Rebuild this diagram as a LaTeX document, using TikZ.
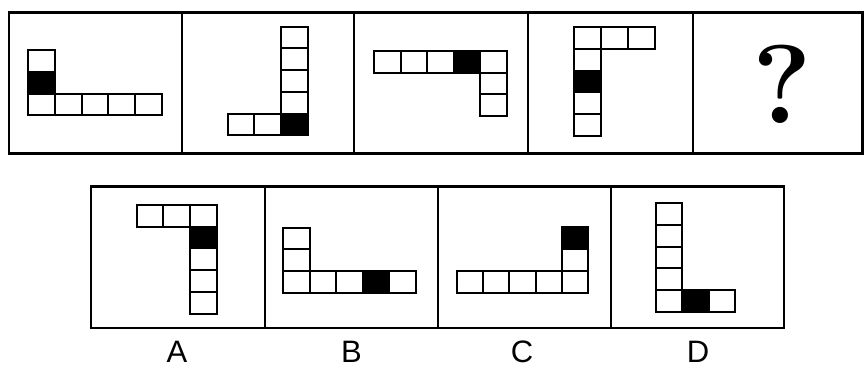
\documentclass[tikz,border=0pt]{standalone}
\usepackage{fontspec}
\setsansfont{Liberation Sans}

\tikzset{
  panel/.style={line width=2.6pt},
  cell/.style={draw, line width=2pt},
  blk/.style={cell, fill=black},
  lbl/.style={font=\sffamily\fontsize{31}{31}\selectfont, anchor=base, inner sep=0pt},
}

\begin{document}
\begin{tikzpicture}[x=1pt,y=-1pt]
  \useasboundingbox (0,0) rectangle (864,368);
  % question row
  \draw[panel] (9,12.7) rectangle (862.5,153.5);
  \foreach \x in {182,354,528,693} \draw[panel] (\x,12.7) -- (\x,153.5);
  % answer row
  \draw[panel] (91,186.7) rectangle (784,328);
  \foreach \x in {265,438,611} \draw[panel] (\x,186.7) -- (\x,328);

  % figure 1
  \begin{scope}[shift={(28.3,50)}]
    \foreach \i/\j in {0/0,0/2,1/2,2/2,3/2,4/2}
      \draw[cell] (\i*26.7,\j*21.8) rectangle ++(26.7,21.8);
    \draw[blk] (0,21.8) rectangle ++(26.7,21.8);
  \end{scope}
  % figure 2
  \begin{scope}[shift={(227.7,26.7)}]
    \foreach \i/\j in {2/0,2/1,2/2,2/3,0/4,1/4}
      \draw[cell] (\i*26.7,\j*21.7) rectangle ++(26.7,21.7);
    \draw[blk] (2*26.7,4*21.7) rectangle ++(26.7,21.7);
  \end{scope}
  % figure 3
  \begin{scope}[shift={(374.3,50.7)}]
    \foreach \i/\j in {0/0,1/0,2/0,4/0,4/1,4/2}
      \draw[cell] (\i*26.5,\j*21.8) rectangle ++(26.5,21.8);
    \draw[blk] (3*26.5,0) rectangle ++(26.5,21.8);
  \end{scope}
  % figure 4
  \begin{scope}[shift={(574.3,27.3)}]
    \foreach \i/\j in {0/0,1/0,2/0,0/1,0/3,0/4}
      \draw[cell] (\i*26.9,\j*21.7) rectangle ++(26.9,21.7);
    \draw[blk] (0,2*21.7) rectangle ++(26.9,21.7);
  \end{scope}
  \node[anchor=base, inner sep=0pt, font=\bfseries\fontsize{112}{112}\selectfont] (qm) at (782.5,123.3) {?};

  % option A
  \begin{scope}[shift={(136.7,205)}]
    \foreach \i/\j in {0/0,1/0,2/0,2/2,2/3,2/4}
      \draw[cell] (\i*26.7,\j*21.7) rectangle ++(26.7,21.7);
    \draw[blk] (2*26.7,21.7) rectangle ++(26.7,21.7);
  \end{scope}
  % option B
  \begin{scope}[shift={(283.3,227.7)}]
    \foreach \i/\j in {0/0,0/1,0/2,1/2,2/2,4/2}
      \draw[cell] (\i*26.5,\j*21.7) rectangle ++(26.5,21.7);
    \draw[blk] (3*26.5,2*21.7) rectangle ++(26.5,21.7);
  \end{scope}
  % option C
  \begin{scope}[shift={(456.7,226.7)}]
    \foreach \i/\j in {4/1,0/2,1/2,2/2,3/2,4/2}
      \draw[cell] (\i*26.3,\j*22) rectangle ++(26.3,22);
    \draw[blk] (4*26.3,0) rectangle ++(26.3,22);
  \end{scope}
  % option D
  \begin{scope}[shift={(655.7,202.7)}]
    \foreach \i/\j in {0/0,0/1,0/2,0/3,0/4,2/4}
      \draw[cell] (\i*26.5,\j*21.9) rectangle ++(26.5,21.9);
    \draw[blk] (26.5,4*21.9) rectangle ++(26.5,21.9);
  \end{scope}

  \node[lbl] (labA) at (177,362) {A};
  \node[lbl] (labB) at (351.5,362) {B};
  \node[lbl] (labC) at (522,362) {C};
  \node[lbl] (labD) at (698,362) {D};
\end{tikzpicture}
\end{document}
